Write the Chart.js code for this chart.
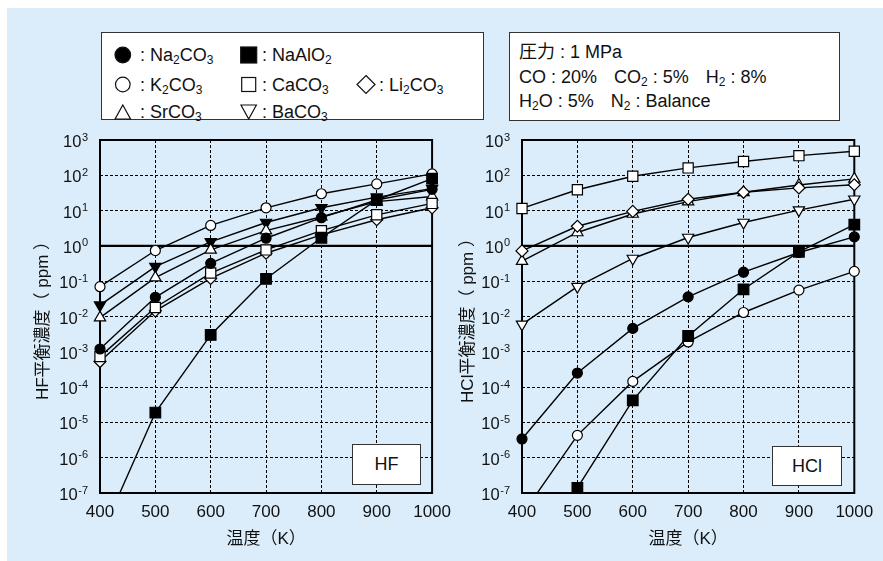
<!DOCTYPE html>
<html lang="ja">
<head>
<meta charset="utf-8">
<title>HF・HCl平衡濃度</title>
<script src="https://cdn.jsdelivr.net/npm/chart.js@4.4.1/dist/chart.umd.min.js"></script>
<style>
  html, body { margin: 0; padding: 0; background: #dbedfa; }
  body { position: relative; width: 883px; height: 561px; overflow: hidden;
         font-family: "Liberation Sans", Arial, "Noto Sans CJK JP", sans-serif; color: #111; }
  .edge { position: absolute; background: #fff; }
  canvas { position: absolute; top: 130px; }
  #hfChart { left: 0; }
  #hclChart { left: 422px; }
  .box { position: absolute; background: #fff; border: 1px solid #333; box-sizing: border-box; }
  .box .t { position: absolute; white-space: nowrap; line-height: 20px; }
  sub { font-size: 12px; line-height: 0; vertical-align: -3px; }
  #legend { left: 101px; top: 32px; width: 383px; height: 88px; font-size: 18px; }
  #legend svg { position: absolute; left: 0; top: 0; }
  #cond { left: 509px; top: 32px; width: 331px; height: 89px; font-size: 18px; }
  .gap { margin-left: 17px; }
  .tag { position: absolute; background: #fff; border: 1px solid #333; box-sizing: border-box;
         font-size: 18px; text-align: center; line-height: 38px; }
</style>
</head>
<body>
<div class="edge" style="left:0;top:0;width:883px;height:8px"></div>
<div class="edge" style="left:0;top:0;width:7px;height:561px"></div>
<canvas id="hfChart" width="460" height="431"></canvas>
<canvas id="hclChart" width="461" height="431"></canvas>

<div class="box" id="legend">
  <svg width="383" height="88">
    <g stroke="#111" stroke-width="1.2">
      <circle cx="20.8" cy="22" r="7.8" fill="#000"/>
      <rect x="138.7" y="14" width="16" height="16" fill="#000"/>
      <circle cx="20.8" cy="51.5" r="7.3" fill="#fff"/>
      <rect x="139.7" y="44.5" width="14" height="14" fill="#fff"/>
      <polygon points="264,42.5 273,51.5 264,60.5 255,51.5" fill="#fff"/>
      <polygon points="20.8,72 28.5,86 13.1,86" fill="#fff"/>
      <polygon points="146.7,72 154.4,72 146.7,86 139,72" fill="#fff"/>
    </g>
  </svg>
  <div class="t" style="left:38px;top:12px">:&nbsp;Na<sub>2</sub>CO<sub>3</sub></div>
  <div class="t" style="left:160px;top:12px">:&nbsp;NaAlO<sub>2</sub></div>
  <div class="t" style="left:38px;top:41.5px">:&nbsp;K<sub>2</sub>CO<sub>3</sub></div>
  <div class="t" style="left:160px;top:41.5px">:&nbsp;CaCO<sub>3</sub></div>
  <div class="t" style="left:277px;top:41.5px">:&nbsp;Li<sub>2</sub>CO<sub>3</sub></div>
  <div class="t" style="left:38px;top:69px">:&nbsp;SrCO<sub>3</sub></div>
  <div class="t" style="left:160px;top:69px">:&nbsp;BaCO<sub>3</sub></div>
</div>

<div class="box" id="cond">
  <div class="t" style="left:9px;top:8.7px">圧力 : 1 MPa</div>
  <div class="t" style="left:9px;top:33.7px">CO : 20%<span class="gap">CO<sub>2</sub> : 5%</span><span class="gap">H<sub>2</sub> : 8%</span></div>
  <div class="t" style="left:9px;top:58px">H<sub>2</sub>O : 5%<span class="gap">N<sub>2</sub> : Balance</span></div>
</div>

<div class="tag" style="left:352px;top:444px;width:69px;height:41px">HF</div>
<div class="tag" style="left:772px;top:446px;width:70px;height:40px">HCl</div>

<script>
// 温度 (K)
const temps = [400, 500, 600, 700, 800, 900, 1000];
// 縦軸の目盛 (10^n)
const decades = [-7, -6, -5, -4, -3, -2, -1, 0, 1, 2, 3];

// HF平衡濃度 (ppm)
const hfNa2CO3 = [0.0012, 0.035, 0.32, 1.65, 6.3, 20, 40];
const hfNaAlO2 = [5.4e-9, 1.9e-5, 0.003, 0.117, 1.7, 20, 80];
const hfK2CO3  = [0.07, 0.74, 3.8, 12, 30, 57, 110];
const hfCaCO3  = [0.00073, 0.018, 0.17, 0.77, 2.7, 7.6, 16];
const hfLi2CO3 = [0.00053, 0.0145, 0.12, 0.62, 2.05, 5.5, 12];
const hfSrCO3  = [0.0093, 0.126, 0.77, 2.7, 6.7, 18, 25];
const hfBaCO3  = [0.021, 0.26, 1.3, 4.6, 12, 24, 42];

// HCl平衡濃度 (ppm)
const hclNa2CO3 = [3.4e-6, 2.5e-4, 0.0046, 0.036, 0.18, 0.65, 1.8];
const hclNaAlO2 = [null, 1.4e-7, 4.2e-5, 0.0028, 0.059, 0.68, 4];
const hclK2CO3  = [2.4e-8, 4.3e-6, 1.45e-4, 0.0019, 0.013, 0.056, 0.19];
const hclCaCO3  = [11.5, 39, 94, 162, 245, 360, 480];
const hclLi2CO3 = [0.72, 3.6, 9.5, 21, 33, 44, 54];
const hclSrCO3  = [0.37, 2.4, 8, 18, 33, 53, 79];
const hclBaCO3  = [0.006, 0.07, 0.44, 1.73, 4.6, 10.3, 21];

const FONT = "'Liberation Sans', Arial, 'Noto Sans CJK JP', sans-serif";

function serie(label, vals, style, radius, filled, rotation) {
  return {
    label: label,
    data: temps.map((t, i) => ({ x: t, y: vals[i] })),
    borderColor: '#000',
    borderWidth: 1.4,
    pointStyle: style,
    pointRadius: radius,
    pointRotation: rotation || 0,
    pointBackgroundColor: filled ? '#000' : '#fff',
    pointBorderColor: '#000',
    pointBorderWidth: 1.2,
    tension: 0,
    clip: { left: 10, right: 10, top: 10, bottom: 0 }
  };
}

// 枠線・1ppm線・縦軸ラベル(10のべき乗)
const framePlugin = {
  id: 'frame',
  beforeDatasetsDraw(chart) {
    const { ctx, chartArea: a, scales: { y } } = chart;
    ctx.save();
    const y1 = y.getPixelForValue(1);
    ctx.strokeStyle = '#000';
    ctx.lineWidth = 2.4;
    ctx.beginPath();
    ctx.moveTo(a.left, y1);
    ctx.lineTo(a.right, y1);
    ctx.stroke();
    ctx.lineWidth = 2;
    ctx.strokeRect(a.left, a.top, a.right - a.left, a.bottom - a.top);
    ctx.restore();
  },
  afterDraw(chart) {
    const { ctx, chartArea: a, scales: { y } } = chart;
    ctx.save();
    ctx.fillStyle = '#111';
    ctx.textAlign = 'right';
    ctx.textBaseline = 'alphabetic';
    decades.forEach(e => {
      const py = y.getPixelForValue(Math.pow(10, e));
      const ex = String(e);
      const right = a.left - 12;
      ctx.font = '11px ' + FONT;
      const ew = ctx.measureText(ex).width;
      ctx.fillText(ex, right, py + 0.5);
      ctx.font = '16.5px ' + FONT;
      ctx.fillText('10', right - ew - 0.5, py + 7);
    });
    ctx.restore();
  }
};

function makeChart(id, yTitle, titlePad, padRight, sets) {
  return new Chart(document.getElementById(id), {
    type: 'line',
    data: { datasets: sets },
    options: {
      responsive: false,
      animation: false,
      devicePixelRatio: 1,
      layout: { padding: { top: 10, right: padRight, left: 0, bottom: 0 } },
      plugins: { legend: { display: false }, tooltip: { enabled: false } },
      scales: {
        x: {
          type: 'linear',
          min: 400,
          max: 1000,
          afterBuildTicks: s => { s.ticks = temps.map(v => ({ value: v })); },
          afterFit: s => { s.height = 68; },
          grid: { color: '#000', lineWidth: 1, drawTicks: false },
          border: { display: false, dash: [3, 2] },
          ticks: { color: '#111', font: { size: 17, family: FONT }, padding: 9, maxRotation: 0,
                   callback: v => String(v) },
          title: { display: true, text: '温度（K）', color: '#111',
                   font: { size: 17, family: FONT }, padding: { top: 0, bottom: 11 } }
        },
        y: {
          type: 'logarithmic',
          min: 1e-7,
          max: 1e3,
          afterBuildTicks: s => { s.ticks = decades.map(e => ({ value: Math.pow(10, e) })); },
          afterFit: s => { s.width = 100; },
          grid: { color: '#000', lineWidth: 1, drawTicks: false },
          border: { display: false, dash: [3, 2] },
          ticks: { display: false },
          title: { display: true, text: yTitle, color: '#111',
                   font: { size: 17, family: FONT }, padding: { top: titlePad, bottom: 0 } }
        }
      }
    },
    plugins: [framePlugin]
  });
}

makeChart('hfChart', 'HF平衡濃度（ ppm ）', 33, 26.7, [
  serie('Na2CO3', hfNa2CO3, 'circle', 5, true),
  serie('NaAlO2', hfNaAlO2, 'rect', 7.5, true),
  serie('K2CO3', hfK2CO3, 'circle', 5, false),
  serie('CaCO3', hfCaCO3, 'rect', 7.2, false),
  serie('Li2CO3', hfLi2CO3, 'rectRot', 6, false),
  serie('SrCO3', hfSrCO3, 'triangle', 6.5, false),
  serie('BaCO3', hfBaCO3, 'triangle', 6.5, true, 180)
]);

makeChart('hclChart', 'HCl平衡濃度（ ppm ）', 36, 28.7, [
  serie('Na2CO3', hclNa2CO3, 'circle', 5, true),
  serie('NaAlO2', hclNaAlO2, 'rect', 7.5, true),
  serie('K2CO3', hclK2CO3, 'circle', 5, false),
  serie('CaCO3', hclCaCO3, 'rect', 7.2, false),
  serie('Li2CO3', hclLi2CO3, 'rectRot', 6, false),
  serie('SrCO3', hclSrCO3, 'triangle', 6.5, false),
  serie('BaCO3', hclBaCO3, 'triangle', 6.5, false, 180)
]);
</script>
</body>
</html>
